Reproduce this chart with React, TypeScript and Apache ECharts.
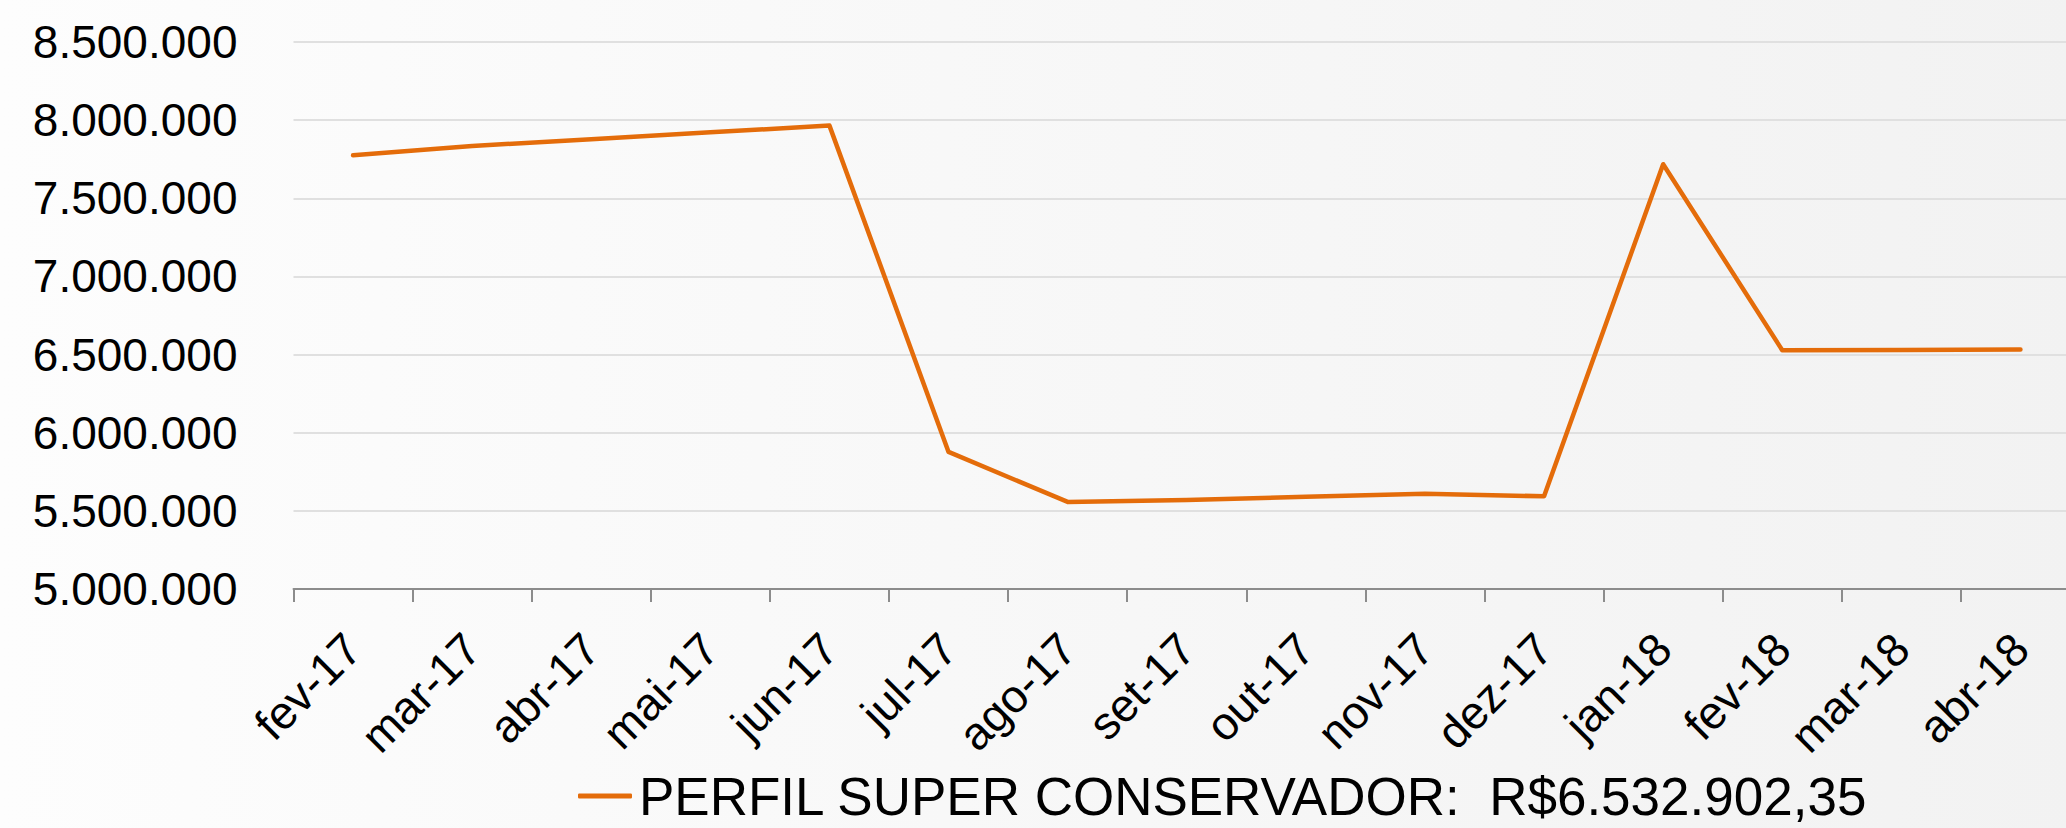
import React, { useEffect, useRef } from "react";
import * as echarts from "echarts";

const categories = [
  "fev-17", "mar-17", "abr-17", "mai-17", "jun-17", "jul-17", "ago-17", "set-17",
  "out-17", "nov-17", "dez-17", "jan-18", "fev-18", "mar-18", "abr-18",
];

const seriesName = "PERFIL SUPER CONSERVADOR:  R$6.532.902,35";

const values = [
  7775000, 7835000, 7878000, 7922000, 7965000, 5877000, 5557000, 5570000,
  5590000, 5610000, 5593000, 7718000, 6528000, 6530000, 6532902.35,
];

const yMin = 5000000;
const yMax = 8500000;
const yStep = 500000;

const fmt = (v: number) => String(Math.round(v)).replace(/\B(?=(\d{3})+(?!\d))/g, ".");

export default function App() {
  const ref = useRef<HTMLDivElement>(null);
  useEffect(() => {
    if (!ref.current) return;
    const chart = echarts.init(ref.current, null, { renderer: "svg" });
    const font = "'Liberation Sans', Arial, sans-serif";
    chart.setOption({
      animation: false,
      backgroundColor: new echarts.graphic.LinearGradient(0, 0, 1, 0, [
        { offset: 0, color: "#fdfdfd" },
        { offset: 1, color: "#f2f2f2" },
      ]),
      grid: { left: 293.5, top: 42, right: 0, bottom: 239, containLabel: false },
      legend: {
        left: 578,
        top: 768,
        padding: 0,
        itemWidth: 54,
        itemHeight: 5,
        itemGap: 10,
        icon: "roundRect",
        textStyle: { fontFamily: font, fontSize: 53, lineHeight: 56, color: "#000", padding: [0, 0, 0, 2] },
        data: [{ name: seriesName, icon: "roundRect" }],
      },
      xAxis: {
        type: "category",
        data: categories,
        boundaryGap: true,
        axisLine: { show: true, lineStyle: { color: "#8c8c8c", width: 2 } },
        axisTick: { show: true, length: 13, lineStyle: { color: "#8c8c8c", width: 2 } },
        axisLabel: {
          rotate: 45,
          margin: 52,
          interval: 0,
          fontFamily: font,
          fontSize: 46,
          color: "#000",
        },
        splitLine: { show: false },
      },
      yAxis: {
        type: "value",
        min: yMin,
        max: yMax,
        interval: yStep,
        axisLine: { show: false },
        axisTick: { show: false },
        axisLabel: {
          margin: 56,
          fontFamily: font,
          fontSize: 46,
          color: "#000",
          formatter: (v: number) => fmt(v),
        },
        splitLine: { show: true, lineStyle: { color: "#e0e0e0", width: 2 } },
      },
      series: [
        {
          name: seriesName,
          type: "line",
          data: values,
          symbol: "none",
          showSymbol: false,
          lineStyle: { color: "#E46C0A", width: 4.5, cap: "round", join: "round" },
          itemStyle: { color: "#E46C0A" },
        },
      ],
    });
    return () => chart.dispose();
  }, []);
  return (
    <div
      style={{
        position: "absolute",
        left: 0,
        top: 0,
        width: 2066,
        height: 828,
        overflow: "hidden",
      }}
    >
      <div ref={ref} style={{ width: 2080, height: 828 }} />
    </div>
  );
}
